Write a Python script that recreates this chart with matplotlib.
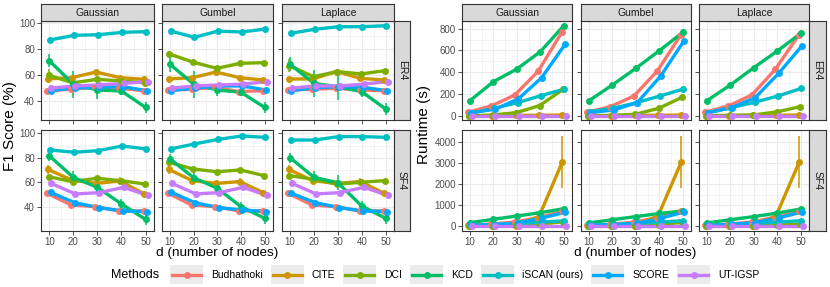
import numpy as np
import matplotlib
matplotlib.use("Agg")
import matplotlib.pyplot as plt
from matplotlib.patches import Rectangle
from matplotlib.lines import Line2D

plt.rcParams['font.family'] = ['Liberation Sans', 'DejaVu Sans']

W, H = 830, 287

# ---------------- data ----------------
nodes = [10, 20, 30, 40, 50]
methods = ["Budhathoki", "CITE", "DCI", "KCD", "iSCAN (ours)", "SCORE", "UT-IGSP"]
colors = ["#F8766D", "#CD9600", "#7CAE00", "#00BE67", "#00BFC4", "#00A9FF", "#C77CFF"]
noises = ["Gaussian", "Gumbel", "Laplace"]
graphs = ["ER4", "SF4"]

# F1 score (%)
f1_er4_gaussian = {
    "Budhathoki": [48, 49, 50.5, 49.8, 48],
    "CITE": [57, 58, 62.4, 58, 56.7],
    "DCI": [60, 54, 56.7, 55.5, 54],
    "KCD": [71.2, 53, 48.5, 47.7, 35],
    "iSCAN (ours)": [87.1, 90.7, 91.2, 93, 93.6],
    "SCORE": [48, 50, 50.6, 51, 48],
    "UT-IGSP": [50, 51.6, 52.4, 53.6, 55],
}
f1_er4_gumbel = {
    "Budhathoki": [48.5, 49, 50.5, 47.2, 48],
    "CITE": [57, 58, 62.4, 58, 56.2],
    "DCI": [76.3, 70, 65.2, 69.1, 69.6],
    "KCD": [68.3, 53, 48.5, 46.7, 35],
    "iSCAN (ours)": [94, 89.2, 94, 93.3, 95.6],
    "SCORE": [48, 50, 51.6, 51.6, 48.5],
    "UT-IGSP": [50, 51.6, 52.4, 53, 55],
}
f1_er4_laplace = {
    "Budhathoki": [48.5, 49, 49.8, 48.5, 48],
    "CITE": [57, 57, 62.7, 57.5, 56.2],
    "DCI": [67.3, 58.8, 62.7, 60.9, 63.4],
    "KCD": [68.3, 53.6, 51, 47.2, 33.8],
    "iSCAN (ours)": [92.3, 95.4, 97.4, 97.4, 98.2],
    "SCORE": [48, 50.3, 51, 50.5, 48],
    "UT-IGSP": [50, 51.6, 51.6, 53, 55],
}
f1_sf4_gaussian = {
    "Budhathoki": [50.9, 41.4, 40, 36.5, 36.5],
    "CITE": [70.5, 61.8, 59, 61, 50.4],
    "DCI": [64.5, 60.5, 63.2, 61.3, 58.5],
    "KCD": [81.7, 64, 55.8, 42.2, 29.6],
    "iSCAN (ours)": [86.4, 84.5, 85.8, 89.6, 87.2],
    "SCORE": [51.7, 43.3, 39.2, 36.5, 36],
    "UT-IGSP": [59, 50.4, 51.5, 55.8, 49.3],
}
f1_sf4_gumbel = {
    "Budhathoki": [50.9, 41.4, 40, 36.5, 36.5],
    "CITE": [70.5, 61.3, 59, 60.5, 51.5],
    "DCI": [76.3, 70.8, 68.6, 70, 65.4],
    "KCD": [79, 63.7, 55, 40, 30.5],
    "iSCAN (ours)": [87.2, 91.3, 95, 97.8, 96.7],
    "SCORE": [51.7, 43.3, 39.2, 37.3, 36],
    "UT-IGSP": [59, 50.4, 51.5, 55.8, 49.3],
}
f1_sf4_laplace = {
    "Budhathoki": [50.9, 41.4, 40, 36.5, 36.5],
    "CITE": [70.5, 61.3, 59, 60.5, 50.9],
    "DCI": [65.4, 62.4, 58.3, 60, 61.3],
    "KCD": [80, 64, 59.6, 40.5, 30.5],
    "iSCAN (ours)": [94.5, 94.5, 97.3, 97.3, 96.7],
    "SCORE": [50.9, 43.3, 39.2, 36.5, 36],
    "UT-IGSP": [59, 50.4, 51.5, 55.8, 49.3],
}

# F1 error half-widths (methods not listed: none visible)
f1_err_er4_gaussian = {"KCD": [5.2, 10.5, 7, 3, 4.5], "DCI": [5, 1, 1, 1, 1]}
f1_err_er4_gumbel = {"KCD": [5.7, 10.5, 5, 3, 4.5], "DCI": [2, 1, 1, 1, 1]}
f1_err_er4_laplace = {"KCD": [5.5, 10.5, 10.5, 4, 4.5], "DCI": [5, 1, 1, 1, 1]}
f1_err_sf4_gaussian = {"KCD": [4, 5, 4, 4, 5], "CITE": [3.5, 1, 1, 3, 1],
                       "UT-IGSP": [3, 1, 1, 2, 1], "Budhathoki": [2, 1, 1, 1, 1]}
f1_err_sf4_gumbel = {"KCD": [4, 5, 4, 4, 5], "CITE": [3.5, 1, 1, 3, 1],
                     "UT-IGSP": [3, 1, 1, 2, 1], "Budhathoki": [2, 1, 1, 1, 1]}
f1_err_sf4_laplace = {"KCD": [4, 5, 6, 4, 5], "CITE": [3.5, 1, 1, 3, 1],
                      "UT-IGSP": [3, 1, 1, 2, 1], "Budhathoki": [2, 1, 1, 1, 1]}

# Runtime (s)
rt_er4_gaussian = {
    "Budhathoki": [34, 92, 192, 412, 766],
    "CITE": [3, 3, 6, 6, 9],
    "DCI": [0, 9, 30, 95, 244],
    "KCD": [140, 314, 430, 589, 827],
    "iSCAN (ours)": [24, 70, 122, 186, 247],
    "SCORE": [30, 61, 156, 351, 656],
    "UT-IGSP": [1, 1, 1, 1, 1],
}
rt_er4_gumbel = {
    "Budhathoki": [34, 85, 183, 412, 742],
    "CITE": [3, 3, 6, 6, 9],
    "DCI": [0, 6, 15, 70, 171],
    "KCD": [140, 284, 437, 598, 766],
    "iSCAN (ours)": [40, 70, 122, 183, 247],
    "SCORE": [30, 55, 122, 366, 690],
    "UT-IGSP": [1, 1, 1, 1, 1],
}
rt_er4_laplace = {
    "Budhathoki": [34, 92, 192, 427, 742],
    "CITE": [3, 3, 6, 6, 9],
    "DCI": [0, 6, 9, 37, 85],
    "KCD": [140, 284, 443, 595, 757],
    "iSCAN (ours)": [30, 76, 125, 183, 253],
    "SCORE": [30, 76, 168, 391, 644],
    "UT-IGSP": [1, 1, 1, 1, 1],
}
rt_sf4_gaussian = {
    "Budhathoki": [34, 90, 190, 400, 700],
    "CITE": [5, 10, 20, 450, 3075],
    "DCI": [0, 10, 30, 90, 200],
    "KCD": [160, 320, 478, 637, 829],
    "iSCAN (ours)": [24, 70, 120, 190, 250],
    "SCORE": [30, 60, 150, 380, 653],
    "UT-IGSP": [2, 2, 2, 2, 2],
}
rt_sf4_gumbel = {
    "Budhathoki": [34, 85, 180, 400, 700],
    "CITE": [5, 10, 20, 480, 3075],
    "DCI": [0, 8, 20, 70, 170],
    "KCD": [150, 300, 450, 600, 717],
    "iSCAN (ours)": [35, 70, 120, 185, 253],
    "SCORE": [30, 55, 125, 370, 670],
    "UT-IGSP": [2, 2, 2, 2, 2],
}
rt_sf4_laplace = {
    "Budhathoki": [34, 90, 190, 420, 700],
    "CITE": [5, 10, 20, 480, 3075],
    "DCI": [0, 6, 10, 40, 90],
    "KCD": [150, 300, 450, 620, 812],
    "iSCAN (ours)": [30, 75, 125, 185, 253],
    "SCORE": [30, 75, 165, 390, 670],
    "UT-IGSP": [2, 2, 2, 2, 2],
}
rt_err_sf4_cite = [0, 0, 0, 50, 1250]

f1_data = {("ER4", "Gaussian"): f1_er4_gaussian, ("ER4", "Gumbel"): f1_er4_gumbel,
           ("ER4", "Laplace"): f1_er4_laplace, ("SF4", "Gaussian"): f1_sf4_gaussian,
           ("SF4", "Gumbel"): f1_sf4_gumbel, ("SF4", "Laplace"): f1_sf4_laplace}
f1_errs = {("ER4", "Gaussian"): f1_err_er4_gaussian, ("ER4", "Gumbel"): f1_err_er4_gumbel,
           ("ER4", "Laplace"): f1_err_er4_laplace, ("SF4", "Gaussian"): f1_err_sf4_gaussian,
           ("SF4", "Gumbel"): f1_err_sf4_gumbel, ("SF4", "Laplace"): f1_err_sf4_laplace}
rt_data = {("ER4", "Gaussian"): rt_er4_gaussian, ("ER4", "Gumbel"): rt_er4_gumbel,
           ("ER4", "Laplace"): rt_er4_laplace, ("SF4", "Gaussian"): rt_sf4_gaussian,
           ("SF4", "Gumbel"): rt_sf4_gumbel, ("SF4", "Laplace"): rt_sf4_laplace}

# ---------------- layout ----------------
fig = plt.figure(figsize=(W / 100, H / 100), dpi=100)

def ax_px(x0, y0, x1, y1, **kw):
    return fig.add_axes([x0 / W, 1 - y1 / H, (x1 - x0) / W, (y1 - y0) / H], **kw)

rows_px = [(21, 120), (130, 231)]
left_cols = [(41, 154), (162, 273), (282, 394)]
right_cols = [(462, 572), (581, 691), (699, 809)]
strip_top = (4, 21)
left_strip_x = (394, 410)
right_strip_x = (809, 826)

TICK_COL = "#4D4D4D"
BORDER = "#333333"
GRID = "#EBEBEB"
STRIP_FILL = "#D9D9D9"
LW = 2.4
MS = 5.0

n = len(methods)
dodge_w = 2.0
offsets = [(i - (n - 1) / 2) * dodge_w / n for i in range(n)]

def style_panel(ax, show_x, show_y, yticks, yminor, ylim):
    ax.set_xlim(6.6, 53.5)
    ax.set_ylim(*ylim)
    ax.set_xticks(nodes)
    ax.set_xticks([15, 25, 35, 45], minor=True)
    ax.set_yticks(yticks)
    ax.set_yticks(yminor, minor=True)
    ax.grid(True, which="major", color=GRID, linewidth=0.8, zorder=0)
    ax.grid(True, which="minor", color=GRID, linewidth=0.4, zorder=0)
    ax.set_axisbelow(True)
    for s in ax.spines.values():
        s.set_color(BORDER)
        s.set_linewidth(0.8)
    ax.tick_params(which="major", length=2.8, width=0.6, color=BORDER,
                   labelsize=7, labelcolor=TICK_COL, pad=1.5)
    ax.tick_params(which="minor", length=0)
    if not show_x:
        ax.tick_params(axis="x", which="major", labelbottom=False)
    if not show_y:
        ax.tick_params(axis="y", which="major", labelleft=False)

def strip(x0, y0, x1, y1, text, rot=0):
    sa = ax_px(x0, y0, x1, y1)
    sa.set_facecolor(STRIP_FILL)
    sa.set_xticks([]); sa.set_yticks([])
    for s in sa.spines.values():
        s.set_color(BORDER); s.set_linewidth(0.8)
    sa.text(0.5, 0.5, text, ha="center", va="center", rotation=rot,
            fontsize=7.5, color="#1A1A1A", transform=sa.transAxes)

def draw_series(ax, data, errs):
    for i, m in enumerate(methods):
        x = np.array(nodes) + offsets[i]
        ax.plot(x, data[m], color=colors[i], linewidth=LW, zorder=2 + i * 0.01,
                solid_capstyle="butt")
    for i, m in enumerate(methods):
        x = np.array(nodes) + offsets[i]
        e = errs.get(m)
        if e is not None:
            ax.errorbar(x, data[m], yerr=e, fmt="none", ecolor=colors[i],
                        elinewidth=1.1, capsize=0, zorder=3 + i * 0.01)
    for i, m in enumerate(methods):
        x = np.array(nodes) + offsets[i]
        ax.plot(x, data[m], linestyle="none", marker="o", markersize=MS,
                markeredgewidth=0, color=colors[i], zorder=4 + i * 0.01)

f1_ylims = {"ER4": (25.3, 101.8), "SF4": (20.1, 102.7)}
rt_ylims = {"ER4": (-37, 870), "SF4": (-239, 4590)}
rt_ticks = {"ER4": ([0, 200, 400, 600, 800], [100, 300, 500, 700]),
            "SF4": ([0, 1000, 2000, 3000, 4000], [500, 1500, 2500, 3500])}

for r, g in enumerate(graphs):
    y0, y1 = rows_px[r]
    for c, nz in enumerate(noises):
        ax = ax_px(left_cols[c][0], y0, left_cols[c][1], y1)
        style_panel(ax, r == 1, c == 0, [40, 60, 80, 100], [30, 50, 70, 90], f1_ylims[g])
        draw_series(ax, f1_data[(g, nz)], f1_errs[(g, nz)])
        ax2 = ax_px(right_cols[c][0], y0, right_cols[c][1], y1)
        style_panel(ax2, r == 1, c == 0, rt_ticks[g][0], rt_ticks[g][1], rt_ylims[g])
        rerr = {"CITE": rt_err_sf4_cite} if g == "SF4" else {}
        draw_series(ax2, rt_data[(g, nz)], rerr)
    strip(left_strip_x[0], y0, left_strip_x[1], y1, g, rot=-90)
    strip(right_strip_x[0], y0, right_strip_x[1], y1, g, rot=-90)

for c, nz in enumerate(noises):
    strip(left_cols[c][0], strip_top[0], left_cols[c][1], strip_top[1], nz)
    strip(right_cols[c][0], strip_top[0], right_cols[c][1], strip_top[1], nz)

# axis titles
fig.text(10 / W, 1 - 126 / H, "F1 Score (%)", rotation=90, ha="center", va="center", fontsize=11)
fig.text(424 / W, 1 - 124 / H, "Runtime (s)", rotation=90, ha="center", va="center", fontsize=11)
fig.text((41 + 394) / 2 / W, 1 - 253 / H, "d (number of nodes)", ha="center", va="center", fontsize=9.7)
fig.text((462 + 809) / 2 / W, 1 - 253 / H, "d (number of nodes)", ha="center", va="center", fontsize=9.7)

# legend
ly = 274.5
fig.text(111 / W, 1 - ly / H, "Methods", ha="left", va="center", fontsize=9)
renderer = fig.canvas.get_renderer()
x = 170
key_w, key_h = 33, 19
for i, m in enumerate(methods):
    fig.patches.append(Rectangle((x / W, 1 - (ly + key_h / 2) / H), key_w / W, key_h / H,
                                 transform=fig.transFigure, facecolor="#EBEBEB",
                                 edgecolor="none", zorder=1))
    fig.lines.append(Line2D([(x + 2) / W, (x + key_w - 2) / W], [1 - ly / H, 1 - ly / H],
                            transform=fig.transFigure, color=colors[i], linewidth=LW, zorder=2))
    fig.lines.append(Line2D([(x + key_w / 2) / W], [1 - ly / H], transform=fig.transFigure,
                            color=colors[i], marker="o", markersize=MS, markeredgewidth=0,
                            linestyle="none", zorder=3))
    t = fig.text((x + key_w + 8) / W, 1 - ly / H, m, ha="left", va="center", fontsize=7.5)
    bb = t.get_window_extent(renderer)
    x = bb.x1 + 8

fig.savefig("out.png", dpi=100)
